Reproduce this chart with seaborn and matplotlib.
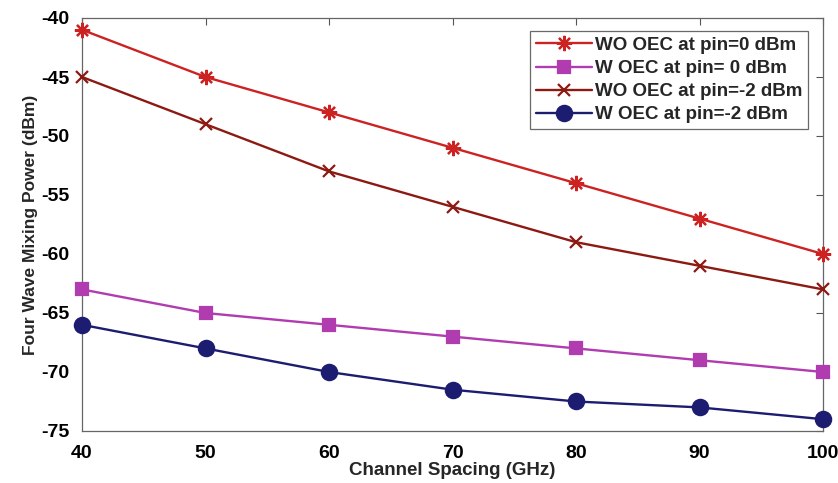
import matplotlib
matplotlib.use("Agg")
import matplotlib.pyplot as plt
import seaborn as sns
import pandas as pd

spacing = [40, 50, 60, 70, 80, 90, 100]
wo_pin0 = [-41, -45, -48, -51, -54, -57, -60]
w_pin0 = [-63, -65, -66, -67, -68, -69, -70]
wo_pinm2 = [-45, -49, -53, -56, -59, -61, -63]
w_pinm2 = [-66, -68, -70, -71.5, -72.5, -73, -74]
labels = ["WO OEC at pin=0 dBm", "W OEC at pin= 0 dBm",
          "WO OEC at pin=-2 dBm", "W OEC at pin=-2 dBm"]
yticks = [-75, -70, -65, -60, -55, -50, -45, -40]
xticks = [40, 50, 60, 70, 80, 90, 100]

sns.set_style("white")
plt.rcParams['font.family'] = ['Liberation Sans', 'DejaVu Sans']
plt.rcParams['axes.unicode_minus'] = False

df = pd.DataFrame({
    "x": spacing * 4,
    "y": wo_pin0 + w_pin0 + wo_pinm2 + w_pinm2,
    "s": sum([[l] * len(spacing) for l in labels], []),
})

colors = ["#cc2222", "#b03cb0", "#8c1a12", "#1c1c70"]
markers = [(8, 2, 0), "s", "x", "o"]
msizes = [11, 8, 8, 11]

fig = plt.figure(figsize=(8.38, 4.83), dpi=100)
ax = fig.add_axes([82 / 838, 1 - 431 / 483, (823 - 82) / 838, (431 - 18) / 483])

for lab, c, m, ms in zip(labels, colors, markers, msizes):
    sub = df[df.s == lab]
    sns.lineplot(data=sub, x="x", y="y", ax=ax, color=c, marker=m,
                 markersize=ms, markeredgecolor=c, markeredgewidth=1.6,
                 linewidth=1.7, label=lab, clip_on=False, zorder=3)

ax.set_xlim(40, 100)
ax.set_ylim(-75, -40)
ax.set_xticks(xticks)
ax.set_yticks(yticks)
ax.tick_params(direction="in", length=5, labelsize=14, width=0.8,
               top=True, right=True, colors="#555555", labelcolor="black")
ax.tick_params(axis="x", pad=10)
ax.tick_params(axis="y", pad=9)
for t in ax.get_xticklabels() + ax.get_yticklabels():
    t.set_fontweight("bold")
ax.set_xlabel("Channel Spacing (GHz)", fontsize=13.5, fontweight="bold", labelpad=0)
ax.set_ylabel("Four Wave Mixing Power (dBm)", fontsize=12.5, fontweight="bold", labelpad=2)
for sp in ax.spines.values():
    sp.set_color("#666666")
    sp.set_linewidth(0.9)

leg = ax.legend(loc="upper right", bbox_to_anchor=(0.98, 0.968),
                prop={"weight": "bold", "size": 13.5}, frameon=True,
                fancybox=False, edgecolor="#444444", handlelength=3.0,
                handletextpad=0.15, borderpad=0.3, labelspacing=0.32,
                borderaxespad=0)
leg.get_frame().set_linewidth(0.9)

fig.savefig("out.png", dpi=100)
